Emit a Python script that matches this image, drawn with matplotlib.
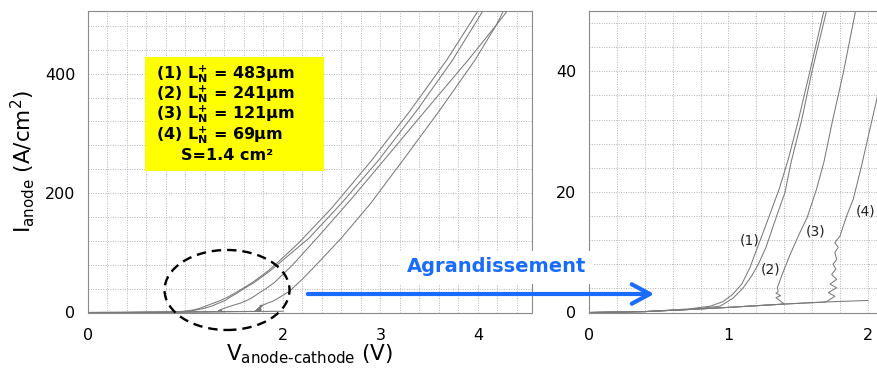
import matplotlib.pyplot as plt
from matplotlib.ticker import MultipleLocator
from matplotlib.patches import Ellipse, Rectangle, FancyArrowPatch

# I-V curves (V in volts, I in A/cm2)
v1 = [0, 0.4, 0.72, 0.87, 0.96, 1.03, 1.095, 1.154, 1.19, 1.226, 1.262, 1.297, 1.364, 1.43,
      1.50, 1.58, 1.685, 1.85, 2.0, 2.17, 2.5, 2.91, 3.3, 3.68, 4.0, 4.1]
i1 = [0, 0.15, 0.6, 1.05, 1.8, 3.0, 4.7, 7.45, 9.7, 11.9, 14.1, 16.3, 20.5, 25.5,
      31.8, 39.6, 50.1, 70, 92, 118, 175, 255, 337, 423, 505, 530]

v2 = [0, 0.4, 0.72, 0.94, 1.034, 1.106, 1.166, 1.214, 1.269, 1.31, 1.35, 1.405, 1.45,
      1.525, 1.596, 1.704, 1.87, 2.03, 2.27, 2.6, 2.98, 3.38, 3.74, 4.05, 4.12]
i2 = [0, 0.15, 0.5, 1.05, 2.4, 4.1, 6.05, 8.0, 10.8, 13.6, 16.3, 19.9, 25.0,
      31.9, 39.7, 50.1, 70, 92, 125, 183, 255, 340, 423, 505, 525]

v3 = [0, 0.4, 0.72, 1.0, 1.40, 1.341, 1.374, 1.341, 1.357, 1.35, 1.38, 1.44, 1.505, 1.565,
      1.632, 1.685, 1.747, 1.823, 1.912, 2.1, 2.35, 2.7, 3.05, 3.47, 3.9, 4.19, 4.3, 4.36]
i3 = [0, 0.15, 0.5, 0.85, 1.4, 2.45, 2.8, 3.2, 3.45, 4.1, 6.0, 9.5, 12.9, 15.8,
      20.5, 25.0, 31.9, 39.7, 50.1, 80, 125, 190, 258, 340, 423, 482, 505, 520]

v4 = [0, 0.4, 0.72, 1.0, 1.4, 1.7, 1.763, 1.716, 1.776, 1.728, 1.776, 1.74, 1.77, 1.75,
      1.776, 1.763, 1.787, 1.763, 1.80, 1.847, 1.895, 1.955, 2.01, 2.065, 2.2, 2.4, 2.6,
      2.9, 3.23, 3.6, 3.97, 4.19, 4.26, 4.3]
i4 = [0, 0.15, 0.5, 0.85, 1.4, 1.75, 2.7, 3.3, 4.1, 4.7, 5.5, 6.3, 7.2, 8.0,
      8.8, 9.95, 10.8, 11.6, 12.7, 16.0, 18.8, 24.4, 30.0, 35.5, 56, 90, 125,
      183, 255, 337, 423, 482, 505, 518]

# common leakage line
vb = [0, 0.4, 0.72, 1.0, 1.4, 1.7, 2.0]
ib = [0, 0.15, 0.5, 0.85, 1.4, 1.75, 2.0]

curves = [(v1, i1), (v2, i2), (v3, i3), (v4, i4), (vb, ib)]
legend_lines = [r"(1) L$_{\mathbf{N}}^{\mathbf{+}}$ = 483µm",
                r"(2) L$_{\mathbf{N}}^{\mathbf{+}}$ = 241µm",
                r"(3) L$_{\mathbf{N}}^{\mathbf{+}}$ = 121µm",
                r"(4) L$_{\mathbf{N}}^{\mathbf{+}}$ = 69µm"]
curve_tags = ["(1)", "(2)", "(3)", "(4)"]
tag_pos = [(1.154, 11.9), (1.305, 7.2), (1.627, 13.5), (1.98, 16.7)]

W, H = 877, 374
fig = plt.figure(figsize=(W / 100, H / 100), dpi=100)
ax1 = fig.add_axes([88 / W, (H - 312.5) / H, 444 / W, 301.5 / H])
ax2 = fig.add_axes([589 / W, (H - 312.5) / H, 288 / W, 301.5 / H])

grid_kw = dict(which='both', color='#b4b4b4', lw=0.7, ls=(0, (1, 1.5)))
for ax in (ax1, ax2):
    for v, i in curves:
        ax.plot(v, i, color='#7a7a7a', lw=0.75)
    ax.grid(**grid_kw)
    ax.set_axisbelow(True)
    ax.tick_params(which='both', length=0, labelsize=11.5)
    for s in ax.spines.values():
        s.set_color('#8a8a8a')

ax1.set_xlim(0, 4.554)
ax1.set_ylim(0, 505)
ax1.set_xticks([0, 2, 3, 4])
ax1.set_yticks([0, 200, 400])
ax1.xaxis.set_minor_locator(MultipleLocator(0.2))
ax1.yaxis.set_minor_locator(MultipleLocator(40))
ax1.tick_params(axis='x', pad=11)
ax1.tick_params(axis='y', pad=9)
ax1.set_xlabel(r"V$_{\text{anode-cathode}}$ (V)", fontsize=15.5, labelpad=0)
ax1.set_ylabel(r"I$_{\text{anode}}$ (A/cm$^{2}$)", fontsize=15.5, labelpad=6)

ax2.set_xlim(0, 2.065)
ax2.set_ylim(0, 50)
ax2.set_xticks([0, 1, 2])
ax2.set_yticks([0, 20, 40])
ax2.xaxis.set_minor_locator(MultipleLocator(0.2))
ax2.yaxis.set_minor_locator(MultipleLocator(4))
ax2.spines['right'].set_visible(False)
ax2.tick_params(axis='x', pad=11)
ax2.tick_params(axis='y', pad=9)
for tag, (tx, ty) in zip(curve_tags, tag_pos):
    ax2.text(tx, ty, tag, fontsize=10, ha='center', va='center', color='#222222')

# dashed ellipse around the low-voltage region
ax1.add_patch(Ellipse((1.426, 37.7), 1.282, 134, fill=False, ls=(0, (4, 2.5)),
                      lw=1.7, color='black', clip_on=False, zorder=5))

# yellow legend box
fig.add_artist(Rectangle((145 / W, (H - 171) / H), 179 / W, 113.7 / H,
                         transform=fig.transFigure, facecolor='#ffff00',
                         edgecolor='none', zorder=4))
line_y = [74, 94.3, 114.3, 135]
for txt, py in zip(legend_lines, line_y):
    fig.text(156 / W, (H - py) / H, txt, fontsize=11.5, fontweight='bold',
             va='center', ha='left', zorder=6)
fig.text(181 / W, (H - 156) / H, "S=1.4 cm²", fontsize=11.5, fontweight='bold',
         va='center', ha='left', zorder=6)

# zoom arrow and label
fig.text(407 / W, (H - 267) / H, "Agrandissement", fontsize=14, fontweight='bold',
         color='#1a6bff', va='center', ha='left', zorder=6,
         bbox=dict(facecolor='white', edgecolor='none', pad=5))
fig.add_artist(FancyArrowPatch((305 / W, (H - 294) / H), (657 / W, (H - 294) / H),
                               transform=fig.transFigure,
                               arrowstyle='->,head_length=0.65,head_width=0.35',
                               mutation_scale=20, lw=3, color='#1a6bff', zorder=6))

fig.savefig('out.png', dpi=100)
